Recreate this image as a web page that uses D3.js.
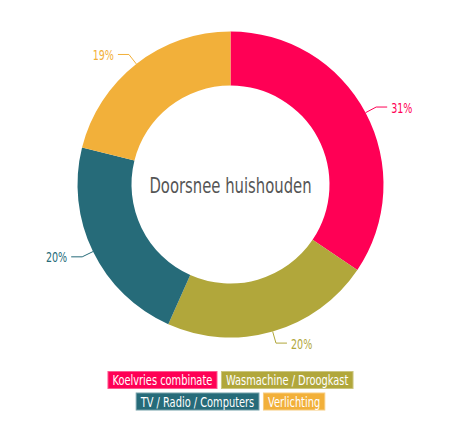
<!DOCTYPE html>
<html>
<head>
<meta charset="utf-8">
<script src="https://cdn.jsdelivr.net/npm/d3@7"></script>
<style>
  body { margin: 0; background: #fff; }
  svg text { font-family: 'DejaVu Sans', sans-serif; }
</style>
</head>
<body>
<div class="donut-container"></div>
<script>
// categorieën en waarden (percentages zoals in de grafiek)
const categories = ['Koelvries combinate', 'Wasmachine / Droogkast', 'TV / Radio / Computers', 'Verlichting'];
const values = [31, 20, 20, 19];
const colors = ['#ff0055', '#b1a73b', '#266b79', '#f2b03a'];
const title = 'Doorsnee huishouden';

const svg_width = 474;
const svg_height = 440;
const cx = 230.5, cy = 184.5;
const outerR = 153, innerR = 99;

// smalle letters nabootsen (geen condensed font aanwezig): horizontaal schalen
function placeText(sel, x, y, factor) {
    return sel.attr('x', 0).attr('y', 0)
        .attr('transform', `translate(${x},${y}) scale(${factor},1)`);
}

const svg = d3.select('.donut-container')
    .append('svg')
    .attr('width', svg_width).attr('height', svg_height);

const g = svg.append('g').attr('transform', `translate(${cx},${cy})`);

const data = categories.map((c, i) => ({ name: c, value: values[i], color: colors[i] }));

const pie = d3.pie().sort(null).value(d => d.value);
const arc = d3.arc().innerRadius(innerR).outerRadius(outerR);
const arcs = pie(data);

// slices
g.selectAll('.slice')
    .data(arcs).enter()
    .append('path')
    .attr('class', 'slice')
    .attr('d', arc)
    .style('fill', d => d.data.color);

// labels met lijntjes
const edgeArc = d3.arc().innerRadius(outerR).outerRadius(outerR);
const elbowArc = d3.arc().innerRadius(165).outerRadius(165);
const midAngle = d => (d.startAngle + d.endAngle) / 2;

arcs.forEach(d => {
    const a = midAngle(d);
    const right = a < Math.PI;
    const p0 = edgeArc.centroid(d);
    const p1 = elbowArc.centroid(d);
    const p2 = [p1[0] + (right ? 11 : -11), p1[1]];
    g.append('polyline')
        .attr('points', [p0, p1, p2].map(p => p.join(',')).join(' '))
        .style('fill', 'none')
        .style('stroke', d.data.color)
        .style('stroke-width', 1);
    const t = g.append('text')
        .attr('text-anchor', right ? 'start' : 'end')
        .style('dominant-baseline', 'central')
        .style('font-size', '13.5px')
        .style('fill', d.data.color)
        .text(d.data.value + '%');
    placeText(t, p2[0] + (right ? 4 : -4), p2[1] + 1, 0.71);
});

// titel in het midden
const titleText = g.append('text')
    .attr('text-anchor', 'middle')
    .style('dominant-baseline', 'central')
    .style('font-size', '21.5px')
    .style('fill', '#555')
    .text(title);
placeText(titleText, 0, 1, 0.69);

// legenda
const rows = [[0, 1], [2, 3]];
const legend = svg.append('g').attr('class', 'legend');
const pad = 5, boxH = 18, gap = 3.5, legendScale = 0.73;
rows.forEach((row, ri) => {
    const rowG = legend.append('g');
    let x = 0;
    row.forEach(i => {
        const item = rowG.append('g');
        const t = item.append('text')
            .style('dominant-baseline', 'central')
            .style('font-size', '13.5px')
            .style('fill', '#fff')
            .text(categories[i]);
        const w = t.node().getComputedTextLength() * legendScale + pad * 2;
        placeText(t, pad, boxH / 2 + 0.5, legendScale);
        item.insert('rect', 'text')
            .attr('x', 0.5).attr('y', 0.5)
            .attr('width', w - 1).attr('height', boxH - 1)
            .style('fill', colors[i])
            .style('stroke', d3.interpolateRgb(colors[i], '#fff')(0.35))
            .style('stroke-width', 1);
        item.attr('transform', `translate(${x},0)`);
        x += w + gap;
    });
    const total = x - gap;
    rowG.attr('transform', `translate(${cx - total / 2},${371 + ri * (boxH + 3.5)})`);
});
</script>
</body>
</html>
